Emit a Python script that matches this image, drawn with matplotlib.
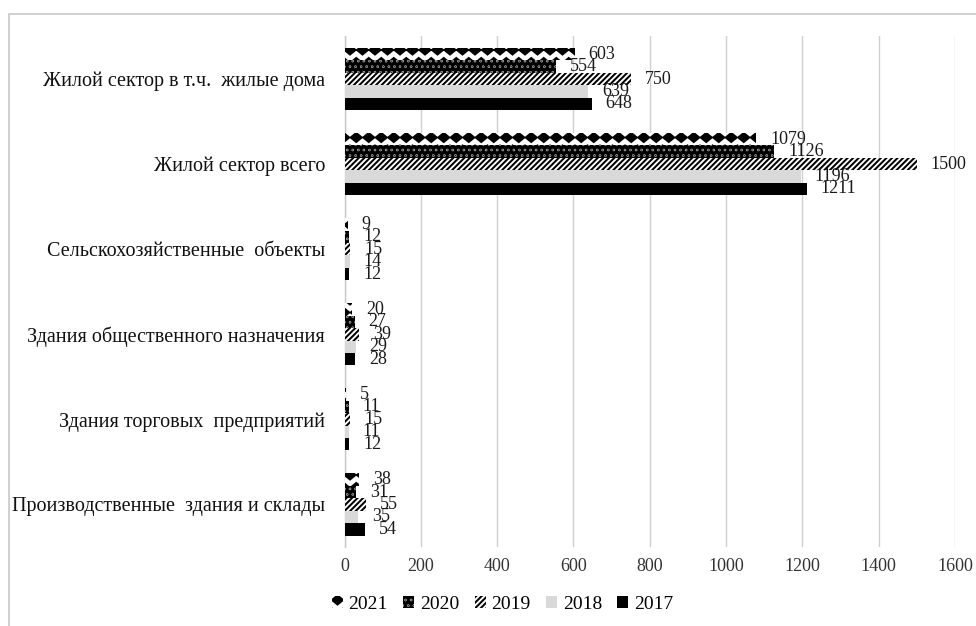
import numpy as np
import matplotlib
matplotlib.use("Agg")
import matplotlib.pyplot as plt
import matplotlib.hatch as mhatch
from matplotlib.path import Path
from matplotlib.patches import Rectangle, Patch

plt.rcParams['font.family'] = ['Liberation Serif', 'DejaVu Serif']
plt.rcParams['hatch.linewidth'] = 1.45


class DiamondHatch(mhatch.Shapes):
    """Rows of solid diamonds, selected with '*'."""
    size = 1.0
    filled = True

    def __init__(self, hatch, density):
        self.num_rows = int(hatch.count('*') * 8)
        self.shape_vertices = np.array([[0.0, -0.36], [0.44, 0.0], [0.0, 0.36],
                                        [-0.44, 0.0], [0.0, -0.36]])
        self.shape_codes = np.array([Path.MOVETO, Path.LINETO, Path.LINETO,
                                     Path.LINETO, Path.CLOSEPOLY],
                                    dtype=Path.code_type)
        super().__init__(hatch, density)


class DotHatch(mhatch.Circles):
    """Small solid dots, selected with 'o'."""
    size = 0.04
    filled = True

    def __init__(self, hatch, density):
        self.num_rows = int(hatch.count('o') * 6)
        super().__init__(hatch, density)


mhatch._hatch_types = [
    DiamondHatch if t is mhatch.Stars else DotHatch if t is mhatch.SmallCircles else t
    for t in mhatch._hatch_types
]

categories = [
    "Жилой сектор в т.ч.  жилые дома",
    "Жилой сектор всего",
    "Сельскохозяйственные  объекты",
    "Здания общественного назначения",
    "Здания торговых  предприятий",
    "Производственные  здания и склады",
]
years = ["2021", "2020", "2019", "2018", "2017"]
v2021 = [603, 1079, 9, 20, 5, 38]
v2020 = [554, 1126, 12, 27, 11, 31]
v2019 = [750, 1500, 15, 39, 15, 55]
v2018 = [639, 1196, 14, 29, 11, 35]
v2017 = [648, 1211, 12, 28, 12, 54]
series = [v2021, v2020, v2019, v2018, v2017]
xticks = [0, 200, 400, 600, 800, 1000, 1200, 1400, 1600]

styles = [
    dict(facecolor="white", edgecolor="black", hatch="*", linewidth=0),
    dict(facecolor="black", edgecolor="white", hatch="ooo", linewidth=0),
    dict(facecolor="white", edgecolor="black", hatch="//////", linewidth=0),
    dict(facecolor="#d9d9d9", edgecolor="#d9d9d9", hatch=None, linewidth=0),
    dict(facecolor="black", edgecolor="black", hatch=None, linewidth=0),
]

fig = plt.figure(figsize=(9.76, 6.26), dpi=100)
ax = fig.add_axes([0.353, 0.1262, 0.6255, 0.8155])

y = np.arange(len(categories))
h = 0.146
for i, (vals, st) in enumerate(zip(series, styles)):
    pos = y + (i - 2) * h
    ax.barh(pos, vals, height=h, label=years[i], zorder=3, **st)
    for p, v in zip(pos, vals):
        ax.annotate(str(v), (v, p), xytext=(10, 0), textcoords="offset points",
                    ha="left", va="center", fontsize=13, color="#1a1a1a")

ax.set_ylim(len(categories) - 0.5, -0.5)
ax.set_xlim(0, 1600)
ax.set_xticks(xticks)
ax.set_xticklabels([str(t) for t in xticks], fontsize=13, color="#333333")
ax.set_yticks(y)
ax.set_yticklabels(categories, fontsize=14.5, color="#111111")
ax.tick_params(axis="x", length=0, pad=8)
ax.tick_params(axis="y", length=0, pad=14)
ax.xaxis.grid(True, color="#d0d0d0", linewidth=1.0, zorder=0)
ax.set_axisbelow(True)
for s in ["top", "right", "bottom"]:
    ax.spines[s].set_visible(False)
ax.spines["left"].set_color("#c8c8c8")
ax.spines["left"].set_linewidth(1.0)

handles = [Patch(label=yr, **st) for yr, st in zip(years, styles)]
fig.legend(handles=handles, loc="center", bbox_to_anchor=(0.515, 0.035), ncol=5,
           frameon=False, fontsize=14, handlelength=0.55, handleheight=0.55,
           handletextpad=0.3, columnspacing=0.8)

fig.patches.append(Rectangle((8.5 / 976, -0.1), 1.2, 1.1 - 13.5 / 626,
                             transform=fig.transFigure, fill=False,
                             edgecolor="#c8c8c8", linewidth=1.2, zorder=0))

fig.savefig("out.png", dpi=100)
